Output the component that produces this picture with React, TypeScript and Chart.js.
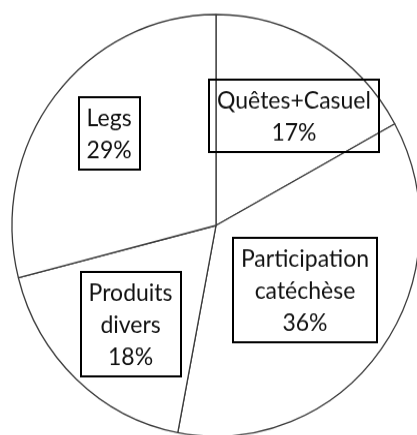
import React, { useEffect, useRef } from "react";
import { Chart, registerables } from "chart.js";

Chart.register(...registerables);

const categories = ["Quêtes+Casuel", "Participation\ncatéchèse", "Produits\ndivers", "Legs"];
const shares = [17, 36, 18, 29];

// label placement: fraction of radius and angular shift (degrees) per slice
const labelRadiusFrac = [0.644, 0.533, 0.627, 0.683];
const labelAngleShift = [5.8, -0.9, -1.3, 2.1];

const FONT = '23px Lato, "Open Sans", sans-serif';
const LINE_H = 31;
const PAD_X = 8;
const PAD_Y = 4;
const STRETCH = 1.034;

const boxLabels = {
  id: "boxLabels",
  afterDatasetsDraw(chart: any) {
    const ctx = chart.ctx;
    const meta = chart.getDatasetMeta(0);
    ctx.save();
    ctx.font = FONT;
    ctx.textAlign = "center";
    ctx.textBaseline = "middle";
    meta.data.forEach((arc: any, i: number) => {
      const p = arc.getProps(["x", "y", "startAngle", "endAngle", "outerRadius"], true);
      const mid = (p.startAngle + p.endAngle) / 2 + (labelAngleShift[i] * Math.PI) / 180;
      const r = p.outerRadius * labelRadiusFrac[i];
      const cx = p.x + Math.cos(mid) * r;
      const cy = p.y + Math.sin(mid) * r;
      const lines = [...categories[i].split("\n"), `${shares[i]}%`];
      const w = Math.max(...lines.map((l) => ctx.measureText(l).width)) + PAD_X * 2;
      const h = lines.length * LINE_H + PAD_Y * 2;
      ctx.strokeStyle = "#000";
      ctx.lineWidth = 2;
      ctx.strokeRect(Math.round(cx - w / 2), Math.round(cy - h / 2), Math.round(w), Math.round(h));
      ctx.fillStyle = "#111";
      lines.forEach((l, k) => {
        ctx.fillText(l, cx, cy + (k - (lines.length - 1) / 2) * LINE_H + 1);
      });
    });
    ctx.restore();
  },
};

export default function App() {
  const ref = useRef<HTMLCanvasElement>(null);
  useEffect(() => {
    if (!ref.current) return;
    const chart = new Chart(ref.current, {
      type: "pie",
      data: {
        labels: categories,
        datasets: [
          {
            data: shares,
            backgroundColor: "#ffffff",
            borderColor: "#3a3a3a",
            borderWidth: 1.3,
            hoverOffset: 0,
          },
        ],
      },
      options: {
        responsive: false,
        animation: false,
        radius: 204,
        layout: { padding: 0 },
        plugins: {
          legend: { display: false },
          tooltip: { enabled: false },
        },
        events: [],
      } as any,
      plugins: [boxLabels],
    });
    return () => chart.destroy();
  }, []);
  return (
    <div
      style={{
        position: "fixed",
        left: 0,
        top: 0,
        width: 417,
        height: 435,
        overflow: "hidden",
        background: "#fff",
      }}
    >
      <canvas
        ref={ref}
        width={432}
        height={436}
        style={{ transform: `scaleY(${STRETCH})`, transformOrigin: "0 0", display: "block" }}
      />
    </div>
  );
}
